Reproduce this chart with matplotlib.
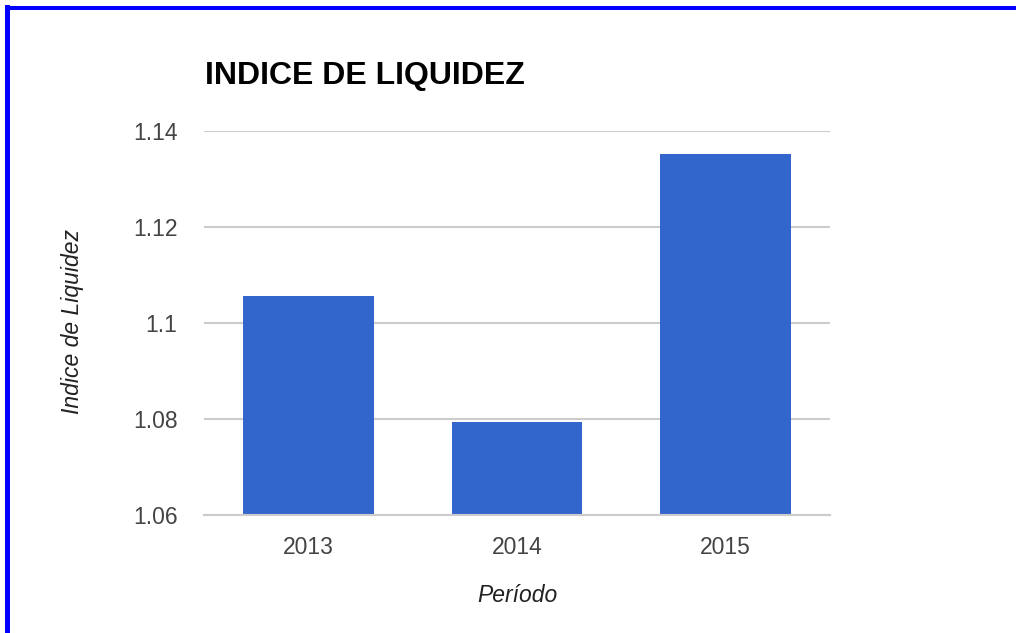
import numpy as np
import matplotlib
matplotlib.use("Agg")
import matplotlib.pyplot as plt
from matplotlib.patches import Rectangle

# Datos del gráfico
periodos = ["2013", "2014", "2015"]
indice = [1.1056, 1.0794, 1.1352]
yticks = [1.06, 1.08, 1.10, 1.12, 1.14]
ytick_labels = ["1.06", "1.08", "1.1", "1.12", "1.14"]

plt.rcParams['font.family'] = ['Liberation Sans', 'DejaVu Sans']

W, H = 1016, 633
fig = plt.figure(figsize=(W / 100, H / 100), dpi=100)
fig.patch.set_facecolor("white")

ax = fig.add_axes([204 / W, 118 / H, 626 / W, 384 / H])

x = np.arange(len(periodos))
ax.bar(x, indice, width=0.625, color="#3366CC", zorder=3)

ax.set_xlim(-0.5, 2.5)
ax.set_ylim(1.06, 1.14)
ax.set_yticks(yticks)
ax.set_yticklabels(ytick_labels)
ax.set_xticks(x)
ax.set_xticklabels(periodos)

ax.grid(axis="y", color="#cccccc", linewidth=1.5, zorder=0)
ax.set_axisbelow(True)
for s in ax.spines.values():
    s.set_visible(False)
ax.tick_params(axis="both", length=0, labelsize=16.5, labelcolor="#444444")
ax.tick_params(axis="y", pad=19)
ax.tick_params(axis="x", pad=15)
# línea base en 1.06
ax.axhline(1.06, color="#cccccc", linewidth=1.5, zorder=4, clip_on=False)

fig.text(205 / W, 1 - 76 / H, "INDICE DE LIQUIDEZ", fontsize=23, fontweight="bold",
         color="black", ha="left", va="center")
fig.text(72 / W, 1 - 322 / H, "Indice de Liquidez", fontsize=16.5, style="italic",
         color="#222222", rotation=90, ha="center", va="center")
fig.text(517 / W, 1 - 596 / H, "Período", fontsize=16.5, style="italic",
         color="#222222", ha="center", va="center")

# borde azul (izquierda y arriba)
fig.add_artist(Rectangle((5 / W, 0), 5 / W, 1 - 5 / H, transform=fig.transFigure,
                         color="#0000ff", lw=0))
fig.add_artist(Rectangle((5 / W, 1 - 10 / H), 1, 4 / H, transform=fig.transFigure,
                         color="#0000ff", lw=0))

plt.savefig("out.png", dpi=100)
plt.close()
